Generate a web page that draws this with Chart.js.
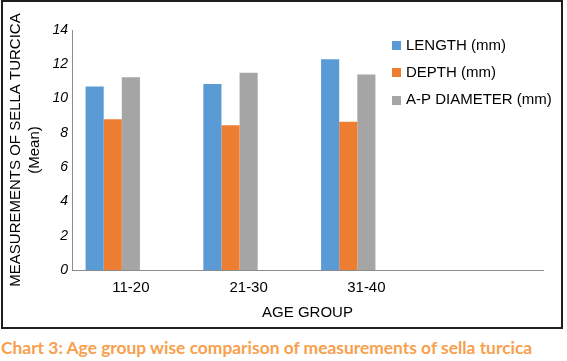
<!DOCTYPE html>
<html>
<head>
<meta charset="utf-8">
<script src="https://cdn.jsdelivr.net/npm/chart.js@4/dist/chart.umd.min.js"></script>
<style>
  html, body { margin: 0; padding: 0; background: #fff; }
  #wrap { position: relative; width: 567px; height: 361px; overflow: hidden; }
  #box { position: absolute; left: 1px; top: 0px; width: 562px; height: 329px; border: 2px solid #1e1e1e; box-sizing: border-box; }
  #c { position: absolute; left: 0; top: 0; }
  #caption { position: absolute; left: 1px; top: 338px; font-family: Lato, "Open Sans", sans-serif; font-weight: bold; font-size: 17.4px; line-height: 20px; color: #f7a04e; white-space: nowrap; }
</style>
</head>
<body>
<div id="wrap">
  <div id="box"></div>
  <canvas id="c" width="567" height="330"></canvas>
  <div id="caption">Chart 3: Age group wise comparison of measurements of sella turcica</div>
</div>
<script>
const categories = ['11-20', '21-30', '31-40', ''];
const lengthMm = [10.7, 10.85, 12.3, null];
const depthMm = [8.8, 8.45, 8.65, null];
const apDiameterMm = [11.25, 11.5, 11.4, null];
const seriesLabels = ['LENGTH (mm)', 'DEPTH (mm)', 'A-P DIAMETER (mm)'];
const yTicks = { min: 0, max: 14, step: 2 };
const xTitle = 'AGE GROUP';
const yTitle = ['MEASUREMENTS OF SELLA TURCICA', '(Mean)'];

Chart.defaults.font.family = '"Liberation Sans", Arial, sans-serif';
Chart.defaults.color = '#000';

const sideLegend = {
  id: 'sideLegend',
  afterDraw(chart) {
    const ctx = chart.ctx;
    ctx.save();
    ctx.font = '15px "Liberation Sans", Arial, sans-serif';
    ctx.textBaseline = 'middle';
    ctx.textAlign = 'left';
    let k = 0;
    chart.data.datasets.forEach(ds => {
      if (!ds.label) return;
      const y = 45.5 + k * 27.3;
      ctx.fillStyle = ds.backgroundColor;
      ctx.fillRect(392, Math.round(y - 4.5), 9, 9);
      ctx.fillStyle = '#000';
      ctx.fillText(ds.label, 406, y);
      k++;
    });
    ctx.restore();
  }
};

new Chart(document.getElementById('c'), {
  type: 'bar',
  data: {
    labels: categories,
    datasets: [
      { label: seriesLabels[0], data: lengthMm, backgroundColor: '#5b9bd5' },
      { label: seriesLabels[1], data: depthMm, backgroundColor: '#ed7d31' },
      { label: seriesLabels[2], data: apDiameterMm, backgroundColor: '#a5a5a5' },
      { label: '', data: [null, null, null, null], backgroundColor: 'rgba(0,0,0,0)' },
      { label: '', data: [null, null, null, null], backgroundColor: 'rgba(0,0,0,0)' }
    ]
  },
  options: {
    responsive: false,
    animation: false,
    events: [],
    layout: { padding: { top: 30, right: 24, left: 0, bottom: 0 } },
    datasets: { bar: { barPercentage: 1, categoryPercentage: 5 / 6.5, borderWidth: 0 } },
    plugins: { legend: { display: false }, tooltip: { enabled: false } },
    scales: {
      x: {
        grid: { display: false, drawTicks: false },
        border: { display: true, color: '#8c8c8c', width: 1 },
        ticks: { font: { size: 15 }, color: '#000', padding: 9, maxRotation: 0, autoSkip: false },
        title: { display: true, text: xTitle, font: { size: 15, lineHeight: 1.3 }, color: '#000', padding: { top: 0, bottom: 7 } },
        afterFit(s) { s.height = 60; }
      },
      y: {
        min: yTicks.min, max: yTicks.max,
        grid: { display: false, drawTicks: false },
        border: { display: true, color: '#8c8c8c', width: 1 },
        ticks: { stepSize: yTicks.step, font: { size: 14, style: 'italic' }, color: '#000', padding: 4 },
        title: { display: true, text: yTitle, font: { size: 15, lineHeight: 1.3 }, color: '#000', padding: { top: 6, bottom: 0 } },
        afterFit(s) { s.width = 72; }
      }
    }
  },
  plugins: [sideLegend]
});
</script>
</body>
</html>
